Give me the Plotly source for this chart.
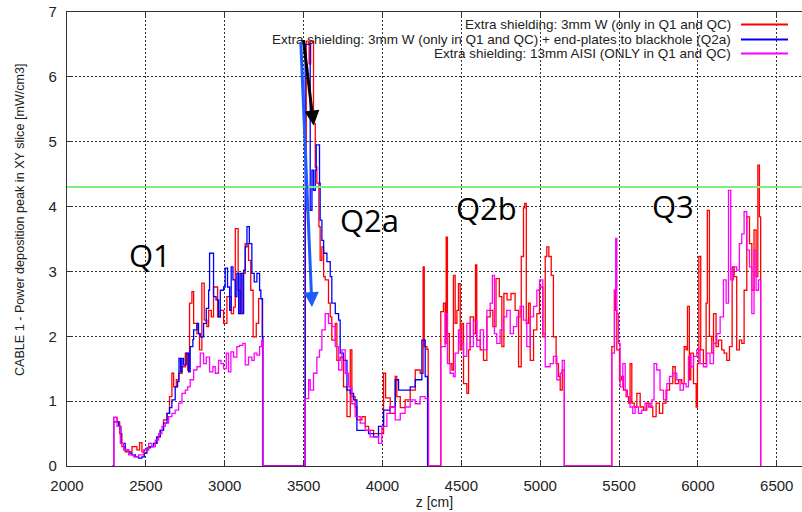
import plotly.graph_objects as go

# ---- data: step histograms, z bin start [cm] and peak power [mW/cm3] ----
red_z = [2288, 2296, 2317, 2334, 2348, 2369, 2412, 2443, 2460, 2475, 2490, 2517, 2549, 2570, 2591,
         2612, 2634, 2650, 2665, 2676, 2693, 2708, 2729, 2750, 2765, 2777, 2792, 2803, 2824, 2840,
         2855, 2870, 2887, 2898, 2915, 2929, 2955, 2972, 2993, 3014, 3041, 3056, 3067, 3085, 3098,
         3109, 3130, 3151, 3165, 3180, 3200, 3215, 3240,
         3510, 3517, 3535, 3545, 3563, 3574, 3584, 3597, 3605, 3616, 3627, 3637, 3658, 3669, 3679,
         3701, 3711, 3732, 3753, 3775, 3796, 3806, 3827, 3838, 3870, 3891, 3912, 3944, 3975, 4007,
         4020, 4049, 4081, 4091, 4113, 4144, 4176, 4208, 4239, 4258, 4265, 4282, 4290,
         4370, 4387, 4398, 4404, 4412, 4424, 4440, 4450, 4461, 4472, 4482, 4493, 4503, 4514, 4535,
         4546, 4556, 4577, 4590, 4598, 4620, 4641, 4662, 4683, 4700, 4720, 4741, 4757, 4770, 4790,
         4815, 4841, 4863, 4880, 4894, 4902, 4912, 4926, 4937, 4958, 4979, 4996, 5017, 5032, 5042,
         5055, 5070, 5084, 5101, 5116, 5127, 5140, 5153,
         5454, 5471, 5479, 5486, 5503, 5517, 5528, 5545, 5560, 5570, 5581, 5596, 5613, 5634, 5655,
         5676, 5697, 5714, 5735, 5756, 5777, 5798, 5820, 5841, 5856, 5877, 5898, 5913, 5925, 5934,
         5946, 5955, 5972, 5989, 5997, 6006, 6018, 6035, 6052, 6060, 6073, 6088, 6099, 6115, 6130,
         6151, 6166, 6183, 6200, 6217, 6230, 6246, 6263, 6278, 6293, 6310, 6327, 6342, 6356, 6369,
         6380, 6390, 6398]
red_v = [0, 0.75, 0.68, 0.50, 0.30, 0.22, 0.30, 0.25, 0.36, 0.22, 0.25, 0.30, 0.35, 0.45, 0.55,
         0.71, 0.81, 1.07, 1.43, 1.22, 1.33, 1.43, 1.53, 1.74, 1.48, 2.51, 2.69, 2.20, 2.04, 1.79,
         2.82, 2.25, 2.15, 2.40, 2.30, 2.76, 2.30, 2.40, 2.20, 2.61, 2.35, 2.45, 3.66, 2.71, 2.35,
         2.97, 3.43, 3.17, 2.71, 1.99, 2.20, 2.58, 0,
         3.95, 6.55, 6.20, 6.55, 5.28, 4.61, 4.36, 3.69, 3.17, 3.38, 2.92, 2.87, 2.51, 2.30, 1.94,
         2.20, 1.63, 1.68, 1.22, 0.76, 1.79, 1.07, 0.91, 0.71, 0.76, 0.61, 0.55, 0.50, 0.50, 1.43,
         1.05, 0.81, 1.38, 1.07, 0.90, 1.02, 1.17, 1.48, 1.43, 3.07, 1.84, 1.80, 0,
         2.38, 2.51, 1.89, 3.53, 2.04, 1.58, 1.48, 2.94, 2.20, 2.40, 2.81, 1.79, 2.20, 1.27, 1.12,
         1.79, 2.30, 2.04, 3.10, 1.94, 1.79, 1.63, 2.30, 2.40, 2.15, 2.89, 2.61, 1.84, 2.66, 2.56,
         2.66, 2.40, 1.53, 3.23, 3.98, 4.05, 2.20, 2.51, 1.63, 2.10, 2.35, 2.76, 1.99, 3.23, 3.38,
         3.23, 2.94, 1.99, 1.58, 1.38, 1.17, 1.48, 0,
         1.84, 2.71, 2.40, 1.79, 1.33, 1.38, 1.17, 1.07, 0.97, 1.58, 0.97, 0.91, 1.12, 0.91, 0.86,
         0.97, 0.91, 0.76, 0.97, 0.81, 0.97, 1.17, 1.27, 1.53, 1.27, 1.33, 1.27, 1.84, 1.79, 2.46,
         1.33, 1.74, 1.27, 0.91, 1.58, 3.23, 1.79, 1.58, 2.51, 3.94, 2.00, 1.74, 2.35, 1.84, 1.94,
         1.79, 1.74, 1.63, 1.84, 3.07, 2.92, 1.79, 1.94, 1.89, 2.71, 3.84, 3.43, 2.71, 3.64, 2.92,
         4.64, 3.84, 0]

blue_z = [2288, 2296, 2327, 2342, 2369, 2391, 2412, 2433, 2454, 2475, 2490, 2507, 2528, 2549, 2570,
          2591, 2612, 2634, 2650, 2665, 2686, 2701, 2710, 2720, 2729, 2739, 2756, 2771, 2781, 2798,
          2803, 2824, 2834, 2845, 2866, 2883, 2898, 2904, 2929, 2945, 2961, 2972, 2993, 3003, 3018,
          3031, 3041, 3052, 3067, 3077, 3088, 3098, 3109, 3120, 3130, 3141, 3156, 3172, 3187, 3204,
          3221, 3229, 3238, 3242,
          3510, 3542, 3553, 3563, 3574, 3580, 3601, 3605, 3616, 3627, 3648, 3669, 3679, 3701, 3722,
          3732, 3753, 3775, 3796, 3817, 3838, 3870, 3912, 3944, 3975, 4007, 4049, 4081, 4102, 4144,
          4176, 4208, 4250, 4271, 4286]
blue_v = [0, 0.68, 0.61, 0.35, 0.25, 0.20, 0.17, 0.14, 0.12, 0.14, 0.20, 0.28, 0.30, 0.35, 0.45,
          0.55, 0.66, 0.81, 0.90, 1.02, 1.22, 1.30, 1.66, 1.45, 1.66, 1.56, 1.74, 1.45, 1.84, 1.95,
          2.10, 2.20, 2.04, 1.99, 2.20, 2.43, 2.71, 3.28, 2.61, 2.56, 2.30, 2.71, 2.76, 3.05, 2.76,
          2.40, 3.07, 2.87, 2.61, 2.97, 2.35, 2.97, 2.35, 3.02, 3.38, 3.69, 3.43, 2.97, 2.84, 2.97,
          2.71, 2.58, 1.99, 0,
          6.50, 3.94, 4.56, 4.25, 4.56, 4.95, 4.36, 3.79, 3.48, 3.28, 3.15, 2.92, 2.51, 2.35, 2.25,
          1.74, 1.63, 1.17, 1.12, 1.02, 0.55, 0.55, 0.50, 0.45, 0.61, 0.86, 0.91, 1.33, 1.17, 1.17,
          1.22, 1.33, 1.94, 1.38, 0]

mag_z = [2288, 2296, 2317, 2338, 2359, 2391, 2422, 2454, 2486, 2517, 2538, 2560, 2581, 2602, 2623,
         2644, 2665, 2686, 2708, 2729, 2750, 2765, 2781, 2803, 2824, 2845, 2866, 2883, 2904, 2925,
         2940, 2961, 2976, 2993, 3010, 3024, 3039, 3056, 3077, 3094, 3115, 3130, 3151, 3172, 3187,
         3204, 3221, 3234, 3242,
         3510, 3532, 3542, 3563, 3584, 3601, 3616, 3637, 3658, 3679, 3701, 3722, 3743, 3764, 3785,
         3806, 3827, 3859, 3891, 3922, 3954, 3975, 3996, 4028, 4049, 4081, 4113, 4144, 4176, 4208,
         4239, 4271, 4292,
         4370, 4398, 4412, 4429, 4450, 4461, 4482, 4493, 4514, 4535, 4556, 4577, 4598, 4620, 4641,
         4662, 4683, 4697, 4710, 4725, 4746, 4767, 4788, 4810, 4831, 4852, 4873, 4894, 4915, 4937,
         4958, 4979, 4996, 5017, 5032, 5063, 5084, 5106, 5127, 5140, 5153,
         5454, 5471, 5479, 5486, 5496, 5507, 5524, 5539, 5553, 5570, 5587, 5602, 5623, 5644, 5665,
         5687, 5708, 5722, 5739, 5760, 5782, 5803, 5820, 5841, 5866, 5887, 5908, 5925, 5940, 5955,
         5972, 5993, 6014, 6035, 6056, 6077, 6099, 6120, 6141, 6162, 6179, 6194, 6208, 6225, 6246,
         6263, 6278, 6293, 6310, 6327, 6342, 6356, 6369, 6384, 6398]
mag_v = [0, 0.75, 0.61, 0.35, 0.25, 0.17, 0.14, 0.17, 0.25, 0.35, 0.30, 0.40, 0.50, 0.61, 0.66,
         0.76, 0.81, 0.86, 0.97, 1.12, 1.17, 1.22, 1.33, 1.48, 1.53, 1.74, 1.58, 1.68, 1.45, 1.53,
         1.43, 1.63, 1.58, 1.50, 1.74, 1.45, 1.76, 1.68, 1.84, 1.86, 1.89, 1.56, 1.68, 1.63, 1.74,
         1.71, 1.84, 1.94, 0,
         1.04, 1.33, 1.17, 1.43, 1.68, 1.79, 2.10, 2.35, 2.20, 2.15, 1.84, 1.48, 1.79, 1.43, 1.22,
         0.96, 0.76, 0.66, 0.55, 0.45, 0.45, 0.35, 0.61, 0.81, 0.91, 0.71, 0.81, 0.91, 1.02, 0.96,
         1.07, 1.04, 0,
         1.84, 2.35, 1.58, 1.43, 1.38, 1.74, 2.10, 1.89, 1.69, 2.20, 1.84, 2.25, 1.84, 2.10, 1.79,
         2.40, 2.51, 2.94, 2.04, 1.89, 2.10, 2.30, 2.40, 2.04, 2.15, 2.30, 2.46, 2.25, 1.84, 2.30,
         2.46, 2.71, 2.87, 2.04, 1.53, 1.58, 1.69, 1.33, 1.43, 1.63, 0,
         1.74, 2.71, 3.51, 2.35, 1.89, 1.22, 1.58, 1.17, 1.07, 0.91, 0.81, 0.91, 0.81, 0.86, 0.97,
         0.91, 1.02, 1.58, 1.48, 1.17, 1.02, 1.27, 1.38, 1.43, 1.33, 1.17, 1.27, 1.22, 1.69, 1.53,
         1.69, 1.79, 1.58, 1.53, 1.74, 1.58, 1.89, 2.04, 2.30, 2.87, 2.51, 4.25, 2.87, 3.07, 3.02,
         3.43, 3.58, 3.92, 3.33, 3.07, 2.35, 3.33, 2.71, 2.87, 0]

series_names = [
    "Extra shielding: 3mm W (only in Q1 and QC)",
    "Extra shielding: 3mm W (only in Q1 and QC) + end-plates to blackhole (Q2a)",
    "Extra shielding: 13mm AISI (ONLY in Q1 and QC)",
]
series_colors = ["#ff0000", "#0000ff", "#ff00ff"]

limit_value = 4.3
region_labels = ["Q1", "Q2a", "Q2b", "Q3"]
region_z = [2526, 3921, 4657, 5843]
region_v = [3.25, 3.79, 3.98, 4.01]

x_range = [2000, 6660]
y_range = [0, 7]

fig = go.Figure()
for zs, vs, name, col in zip([red_z, blue_z, mag_z], [red_v, blue_v, mag_v],
                             series_names, series_colors):
    fig.add_trace(go.Scatter(x=zs, y=vs, mode="lines", name=name,
                             line=dict(color=col, width=1.3, shape="hv"),
                             showlegend=False))

# limit line
fig.add_shape(type="line", xref="paper", x0=0, x1=1, yref="y", y0=limit_value, y1=limit_value,
              line=dict(color="#7fee7f", width=2), layer="above")

# legend drawn gnuplot-style: text right-aligned, sample line to its right
legend_rows = [0.9723, 0.9392, 0.9084]
for name, col, yy in zip(series_names, series_colors, legend_rows):
    fig.add_annotation(xref="paper", yref="paper", x=0.905, y=yy, text=name,
                       showarrow=False, xanchor="right", yanchor="middle", borderpad=0,
                       font=dict(family="Liberation Sans", size=13.5, color="#222"))
    fig.add_shape(type="line", xref="paper", yref="paper", x0=0.917, x1=0.981, y0=yy, y1=yy,
                  line=dict(color=col, width=2))

# region labels
for lab, zx, vy in zip(region_labels, region_z, region_v):
    fig.add_annotation(x=zx, y=vy, text=lab, showarrow=False,
                       font=dict(family="Open Sans", size=31, color="black"))

# arrows marking the change of the Q2a peak
fig.add_annotation(x=3564, y=5.25, ax=3498, ay=6.59, axref="x", ayref="y",
                   showarrow=True, arrowhead=2, arrowsize=1, arrowwidth=3,
                   arrowcolor="black", standoff=0, text="")
fig.add_annotation(x=3553, y=2.45, ax=3482, ay=6.56, axref="x", ayref="y",
                   showarrow=True, arrowhead=2, arrowsize=1, arrowwidth=3,
                   arrowcolor="#1f5cff", standoff=0, text="")

# y axis title
fig.add_annotation(xref="paper", yref="paper", x=-0.076, y=0.542,
                   text="CABLE 1 - Power deposition peak in XY slice [mW/cm3]",
                   textangle=-90, showarrow=False,
                   font=dict(family="Liberation Sans", size=12.6, color="#222"))

grid = dict(showgrid=True, gridcolor="#333", griddash="2px,2px", gridwidth=1)
fig.update_xaxes(range=x_range, tickvals=list(range(2000, 6501, 500)), **grid,
                 showline=True, linecolor="#333", linewidth=1.3, mirror="ticks",
                 ticks="inside", ticklen=6, tickcolor="#333", zeroline=False,
                 tickfont=dict(family="Liberation Sans", size=15, color="#222"),
                 ticklabelstandoff=6,
                 title=dict(text="z [cm]", standoff=1,
                            font=dict(family="Liberation Sans", size=14, color="#222")))
fig.update_yaxes(range=y_range, tickvals=list(range(0, 8)), **grid,
                 showline=True, linecolor="#333", linewidth=1.3, mirror=False,
                 ticks="inside", ticklen=6, tickcolor="#333", zeroline=False,
                 tickfont=dict(family="Liberation Sans", size=15, color="#222"),
                 ticklabelstandoff=6)

fig.update_layout(width=802, height=512, margin=dict(l=67, r=0, t=12, b=46),
                  plot_bgcolor="white", paper_bgcolor="white", showlegend=False)

fig.write_html("out.html")
